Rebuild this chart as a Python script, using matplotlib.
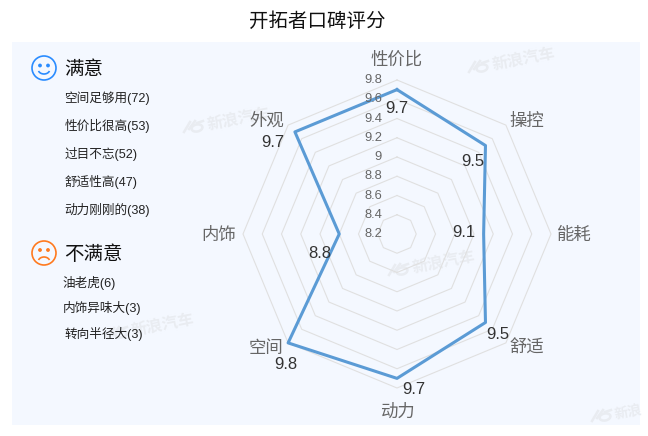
import numpy as np
import matplotlib
matplotlib.use('Agg')
import matplotlib.pyplot as plt
from matplotlib.patches import Circle, Rectangle, Arc, Ellipse

plt.rcParams['font.family'] = ['Liberation Sans', 'Noto Sans CJK SC', 'DejaVu Sans']

categories = ['性价比', '操控', '能耗', '舒适', '动力', '空间', '内饰', '外观']
scores = [9.7, 9.5, 9.1, 9.5, 9.7, 9.8, 8.8, 9.7]
ring_values = [8.4, 8.6, 8.8, 9.0, 9.2, 9.4, 9.6, 9.8]
tick_values = [8.2, 8.4, 8.6, 8.8, 9, 9.2, 9.4, 9.6, 9.8]
good_items = ['空间足够用(72)', '性价比很高(53)', '过目不忘(52)', '舒适性高(47)', '动力刚刚的(38)']
bad_items = ['油老虎(6)', '内饰异味大(3)', '转向半径大(3)']

W, H = 648, 436
fig = plt.figure(figsize=(W / 100, H / 100), dpi=100)

# pixel coordinate layer for the panel and the left hand list
bg = fig.add_axes([0, 0, 1, 1], zorder=0)
bg.set_xlim(0, W)
bg.set_ylim(H, 0)
bg.axis('off')
bg.add_patch(Rectangle((12, 42), 628, 383, facecolor='#f4f8ff', edgecolor='none'))

# watermarks, x and y are the left end of the logo
mark = '#e9ecf1'
for x, y, word, size in [(183, 127, '新浪汽车', 11.5), (468, 67, '新浪汽车', 11.5),
                         (388, 270, '新浪汽车', 11.5), (591, 416, '新浪', 10),
                         (107, 333, '新浪汽车', 11.5)]:
    bg.add_patch(Ellipse((x + 14, y + 1), 11, 7, angle=-12, fill=False, edgecolor=mark, lw=1.8))
    bg.plot([x + 1, x + 7], [y + 5, y - 5], color=mark, lw=1.8)
    bg.plot([x + 6, x + 12], [y + 2, y - 6], color=mark, lw=1.8)
    bg.plot([x + 14, x + 20], [y - 4, y - 6], color=mark, lw=1.8)
    bg.text(x + 24, y - 1, word, fontsize=size, fontweight='bold', color=mark,
            rotation=11, rotation_mode='anchor', ha='left', va='center')

bg.text(317, 22, '开拓者口碑评分', fontsize=14, color='#111111', ha='center', va='center')

# smiley
blue = '#2a8cff'
bg.add_patch(Circle((44, 68), 12, fill=False, edgecolor=blue, lw=1.2))
bg.add_patch(Circle((40, 65.5), 1.2, color=blue))
bg.add_patch(Circle((48, 65.5), 1.2, color=blue))
bg.add_patch(Arc((44, 69), 12, 10, theta1=20, theta2=160, edgecolor=blue, lw=1.2))
# frown
orange = '#ff7a1f'
bg.add_patch(Circle((44, 253), 12, fill=False, edgecolor=orange, lw=1.2))
bg.add_patch(Circle((40, 250), 1.2, color=orange))
bg.add_patch(Circle((48, 250), 1.2, color=orange))
bg.add_patch(Arc((44, 262), 12, 10, theta1=200, theta2=340, edgecolor=orange, lw=1.2))

bg.text(64, 70, '满意', fontsize=14, color='#111111', va='center')
bg.text(64, 255, '不满意', fontsize=14, color='#111111', va='center')
for name, y in zip(good_items, [98, 126, 154, 182, 210]):
    bg.text(64.5, y, name, fontsize=9.1, color='#222222', va='center')
for name, x, y in zip(bad_items, [62.5, 63, 64.5], [283, 308, 334]):
    bg.text(x, y, name, fontsize=9.1, color='#222222', va='center')

label_x = [397, 527, 574, 527, 397, 266, 219, 267]
label_y = [59, 121, 235, 348, 412, 348, 235, 121]
for name, x, y in zip(categories, label_x, label_y):
    bg.text(x, y, name, fontsize=12.5, color='#666666', ha='center', va='center')

# radar
cx, cy, R = 397, 234, 154
ax = fig.add_axes([(cx - R) / W, (H - cy - R) / H, 2 * R / W, 2 * R / H],
                  projection='polar', zorder=1)
ax.patch.set_alpha(0)
ax.set_theta_zero_location('N')
ax.set_theta_direction(-1)
ax.set_ylim(8.2, 9.8)
ax.grid(False)
ax.spines['polar'].set_visible(False)
ax.set_xticks([])
ax.set_yticks([])

theta = np.arange(len(categories)) * 2 * np.pi / len(categories)
closed = np.append(theta, theta[0])
for r in ring_values:
    ax.plot(closed, [r] * len(closed), color='#e0e0e0', lw=0.8, clip_on=False)
ax.plot(closed, scores + scores[:1], color='#5b9bd5', lw=2.2, clip_on=False)

for v in tick_values:
    ax.annotate(str(v), (0, v), xytext=(-15, 0), textcoords='offset pixels',
                ha='right', va='center', fontsize=9.3, color='#666666', annotation_clip=False)

offset_x = [0, -13, -20, 12, 17, -2, -19, -22]
offset_y = [19, 16, -2, 12, 11, 22, 19, 11]
for t, v, dx, dy in zip(theta, scores, offset_x, offset_y):
    ax.annotate(str(v), (t, v), xytext=(dx, -dy), textcoords='offset pixels',
                ha='center', va='center', fontsize=12, color='#333333', annotation_clip=False)

fig.savefig('out.png', dpi=100)
